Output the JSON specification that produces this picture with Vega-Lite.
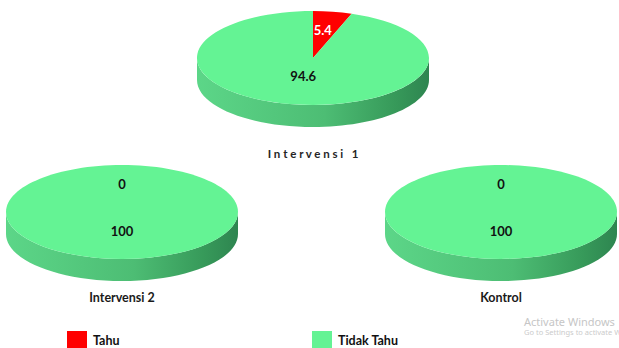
{
  "$schema": "https://vega.github.io/schema/vega-lite/v6.json",
  "description": "Pengetahuan responden per kelompok (persen): Tahu vs Tidak Tahu, digambar sebagai pai 3D.",
  "autosize": {"type": "pad"},
  "padding": 0,
  "bounds": "flush",
  "background": "white",
  "spacing": 0,
  "config": {"view": {"stroke": null}, "font": "Lato"},
  "data": {
    "values": [
      {"group": "Intervensi 1", "category": "Tahu", "value": 5.4},
      {"group": "Intervensi 1", "category": "Tidak Tahu", "value": 94.6},
      {"group": "Intervensi 2", "category": "Tahu", "value": 0},
      {"group": "Intervensi 2", "category": "Tidak Tahu", "value": 100},
      {"group": "Kontrol", "category": "Tahu", "value": 0},
      {"group": "Kontrol", "category": "Tidak Tahu", "value": 100}
    ]
  },
  "vconcat": [
    {
      "width": 626,
      "height": 116,
      "transform": [{"filter": "datum.group == 'Intervensi 1'"}],
      "layer": [
        {
          "transform": [{"filter": "datum.category == 'Tidak Tahu'"}],
          "mark": {
            "type": "point",
            "shape": "M-1,0A1,0.405 0 0 0 1,0L1,0.19A1,0.405 0 0 1 -1,0.19Z",
            "size": 53824,
            "filled": true,
            "opacity": 1,
            "strokeWidth": 0,
            "color": {
              "gradient": "linear", "x1": 0, "y1": 0, "x2": 1, "y2": 0,
              "stops": [
                {"offset": 0, "color": "#5cd688"},
                {"offset": 0.55, "color": "#4dbd74"},
                {"offset": 0.85, "color": "#379a5a"},
                {"offset": 1, "color": "#2e8550"}
              ]
            }
          },
          "encoding": {}
        },
        {
          "mark": {
            "type": "point",
            "shape": {"expr": "datum.value >= 100 ? 'M-1,0A1,0.405 0 1 1 1,0A1,0.405 0 1 1 -1,0Z' : 'M0,0L0,-0.405A1,0.405 0 ' + (datum.value > 50 ? '1 ' : '0 ') + (datum.category == 'Tahu' ? '1 ' : '0 ') + (round((datum.category == 'Tahu' ? 1 : -1) * sin(2 * PI * datum.value / 100) * 10000) / 10000) + ',' + (round(-0.405 * cos(2 * PI * datum.value / 100) * 10000) / 10000) + 'Z'"},
            "size": 53824,
            "filled": true,
            "opacity": 1,
            "strokeWidth": 0
          },
          "encoding": {
            "color": {
              "field": "category",
              "type": "nominal",
              "scale": {"domain": ["Tahu", "Tidak Tahu"], "range": ["#ff0000", "#64f394"]},
              "legend": {
                "orient": "none",
                "legendX": 67,
                "legendY": 331,
                "direction": "horizontal",
                "title": null,
                "symbolType": "square",
                "symbolSize": 400,
                "symbolStrokeWidth": 0,
                "symbolOpacity": 1,
                "labelFont": "Lato",
                "labelFontWeight": "bold",
                "labelFontSize": 12.5,
                "labelColor": "#111111",
                "labelOffset": 6,
                "columnPadding": 192,
                "padding": 0
              }
            }
          }
        },
        {
          "mark": {
            "type": "text",
            "font": "Lato",
            "fontWeight": "bold",
            "fontSize": 13,
            "dx": {"expr": "(datum.category == 'Tahu' ? 1 : -1) * 58 * sin(PI * datum.value / 100)"},
            "dy": {"expr": "-23.5 * cos(PI * datum.value / 100) - 4"},
            "color": {"expr": "datum.category == 'Tahu' && datum.value > 0 ? '#ffffff' : '#111111'"}
          },
          "encoding": {"text": {"field": "value", "type": "quantitative"}}
        },
        {
          "transform": [{"filter": "datum.category == 'Tidak Tahu'"}],
          "mark": {
            "type": "text",
            "text": {"expr": "join(split(datum.group, ''), '\u00a0')"},
            "font": "Lato",
            "fontWeight": "bold",
            "fontSize": 11.5,
            "color": "#262626",
            "dy": 97
          },
          "encoding": {}
        }
      ]
    },
    {
      "width": 619,
      "height": 192,
      "title": {
        "text": "Activate Windows",
        "subtitle": "Go to Settings to activate Windows.",
        "orient": "bottom",
        "anchor": "start",
        "frame": "group",
        "dx": 524,
        "offset": 9,
        "font": "Noto Sans",
        "fontSize": 11,
        "fontWeight": "normal",
        "color": "#c6c6c6",
        "subtitleFont": "Noto Sans",
        "subtitleFontSize": 7.5,
        "subtitleColor": "#cbcbcb",
        "subtitlePadding": 1
      },
      "transform": [{"filter": "datum.group != 'Intervensi 1'"}],
      "encoding": {
        "x": {
          "field": "group",
          "type": "nominal",
          "scale": {"domain": ["Intervensi 2", "Kontrol"], "range": [122, 501], "padding": 0},
          "axis": null
        }
      },
      "layer": [
        {
          "transform": [{"filter": "datum.category == 'Tidak Tahu'"}],
          "mark": {
            "type": "point",
            "shape": "M-1,0A1,0.405 0 0 0 1,0L1,0.19A1,0.405 0 0 1 -1,0.19Z",
            "size": 53824,
            "filled": true,
            "opacity": 1,
            "strokeWidth": 0,
            "color": {
              "gradient": "linear", "x1": 0, "y1": 0, "x2": 1, "y2": 0,
              "stops": [
                {"offset": 0, "color": "#5cd688"},
                {"offset": 0.55, "color": "#4dbd74"},
                {"offset": 0.85, "color": "#379a5a"},
                {"offset": 1, "color": "#2e8550"}
              ]
            }
          }
        },
        {
          "mark": {
            "type": "point",
            "shape": {"expr": "datum.value >= 100 ? 'M-1,0A1,0.405 0 1 1 1,0A1,0.405 0 1 1 -1,0Z' : 'M0,0L0,-0.405A1,0.405 0 ' + (datum.value > 50 ? '1 ' : '0 ') + (datum.category == 'Tahu' ? '1 ' : '0 ') + (round((datum.category == 'Tahu' ? 1 : -1) * sin(2 * PI * datum.value / 100) * 10000) / 10000) + ',' + (round(-0.405 * cos(2 * PI * datum.value / 100) * 10000) / 10000) + 'Z'"},
            "size": 53824,
            "filled": true,
            "opacity": 1,
            "strokeWidth": 0
          },
          "encoding": {
            "color": {
              "field": "category",
              "type": "nominal",
              "scale": {"domain": ["Tahu", "Tidak Tahu"], "range": ["#ff0000", "#64f394"]}
            }
          }
        },
        {
          "mark": {
            "type": "text",
            "font": "Lato",
            "fontWeight": "bold",
            "fontSize": 13,
            "dx": {"expr": "(datum.category == 'Tahu' ? 1 : -1) * 58 * sin(PI * datum.value / 100)"},
            "dy": {"expr": "-23.5 * cos(PI * datum.value / 100) - 4"},
            "color": {"expr": "datum.category == 'Tahu' && datum.value > 0 ? '#ffffff' : '#111111'"}
          },
          "encoding": {"text": {"field": "value", "type": "quantitative"}}
        },
        {
          "transform": [{"filter": "datum.category == 'Tidak Tahu'"}],
          "mark": {
            "type": "text",
            "font": "Lato",
            "fontWeight": "bold",
            "fontSize": 12.5,
            "color": "#1a1a1a",
            "dy": 86
          },
          "encoding": {"text": {"field": "group", "type": "nominal"}}
        }
      ]
    }
  ]
}
